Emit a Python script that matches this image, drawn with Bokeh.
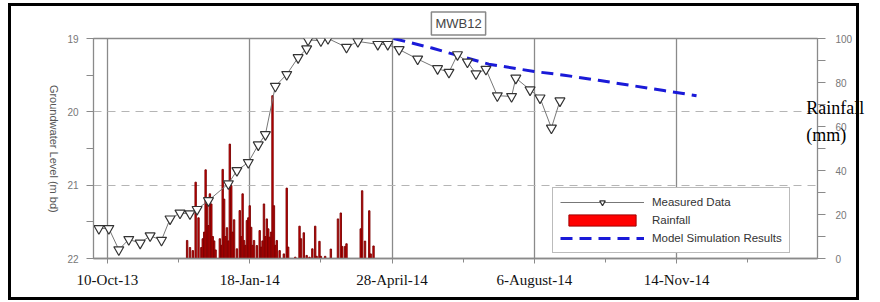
import pandas as pd
from math import pi
from bokeh.plotting import figure
from bokeh.models import (Range1d, LinearAxis, FixedTicker, Label,
                          Legend, LegendItem, ColumnDataSource)
from bokeh.embed import file_html
from bokeh.resources import INLINE

# ---------------- data ----------------
measured_dates = ["2013-10-04", "2013-10-11", "2013-10-18", "2013-10-25", "2013-11-02",
                  "2013-11-09", "2013-11-17", "2013-11-23", "2013-11-30", "2013-12-07",
                  "2013-12-12", "2013-12-20", "2014-01-03", "2014-01-09", "2014-01-17",
                  "2014-01-24", "2014-01-29", "2014-02-05", "2014-02-13", "2014-02-21",
                  "2014-02-27", "2014-02-28", "2014-03-09", "2014-03-14", "2014-03-27",
                  "2014-04-04", "2014-04-18", "2014-04-25", "2014-05-03", "2014-05-16",
                  "2014-05-30", "2014-06-07", "2014-06-13", "2014-06-20", "2014-06-26",
                  "2014-07-03", "2014-07-11", "2014-07-21", "2014-07-24", "2014-08-03",
                  "2014-08-10", "2014-08-18", "2014-08-24"]
measured_level = [21.59, 21.59, 21.88, 21.74, 21.79, 21.69, 21.75, 21.46, 21.38, 21.39,
                  21.33, 21.21, 20.98, 20.80, 20.69, 20.45, 20.31, 19.65, 19.49, 19.26,
                  19.14, 19.02, 19.03, 19.00, 19.12, 19.04, 19.08, 19.08, 19.15, 19.28,
                  19.41, 19.46, 19.22, 19.32, 19.48, 19.42, 19.78, 19.79, 19.54, 19.70,
                  19.81, 20.22, 19.85]

model_dates = ["2014-04-29", "2014-05-26", "2014-06-13", "2014-07-05", "2014-08-06",
               "2014-08-27", "2014-09-20", "2014-10-13", "2014-11-05", "2014-11-28"]
model_level = [19.00, 19.13, 19.23, 19.35, 19.45, 19.50, 19.57, 19.64, 19.71, 19.78]

rain_dates = ["2013-12-05", "2013-12-07", "2013-12-09", "2013-12-11", "2013-12-13",
              "2013-12-15", "2013-12-16", "2013-12-17", "2013-12-18", "2013-12-19",
              "2013-12-20", "2013-12-21", "2013-12-22", "2013-12-23", "2013-12-24",
              "2013-12-25", "2013-12-28", "2013-12-29", "2013-12-30", "2013-12-31",
              "2014-01-01", "2014-01-02", "2014-01-03", "2014-01-04", "2014-01-05",
              "2014-01-06", "2014-01-07", "2014-01-09", "2014-01-11", "2014-01-12",
              "2014-01-13", "2014-01-14", "2014-01-15", "2014-01-16", "2014-01-17",
              "2014-01-18", "2014-01-19", "2014-01-20", "2014-01-21", "2014-01-23",
              "2014-01-25", "2014-01-26", "2014-01-27", "2014-01-28", "2014-01-29",
              "2014-01-30", "2014-01-31", "2014-02-01", "2014-02-02", "2014-02-03",
              "2014-02-04", "2014-02-05", "2014-02-06", "2014-02-08", "2014-02-11",
              "2014-02-13", "2014-02-14", "2014-02-19", "2014-02-22", "2014-02-23",
              "2014-02-25", "2014-02-27", "2014-03-01", "2014-03-03", "2014-03-05",
              "2014-03-06", "2014-03-08", "2014-03-09", "2014-03-12", "2014-03-16",
              "2014-03-21", "2014-03-23", "2014-03-24", "2014-03-26", "2014-03-27",
              "2014-04-06", "2014-04-07", "2014-04-09", "2014-04-12", "2014-04-13",
              "2014-04-15"]
rain_mm = [8.2, 5.0, 3.6, 34.7, 18.5,
           5.0, 9.0, 12.0, 40.3, 26.4,
           15.0, 29.4, 24.8, 10.0, 8.0,
           3.9, 9.0, 6.0, 40.5, 27.0,
           10.0, 14.0, 8.0, 52.0, 33.2,
           12.0, 17.6, 4.4, 21.8, 10.0,
           29.4, 8.2, 6.0, 17.3, 18.5,
           24.0, 14.2, 6.0, 8.2, 5.9,
           12.7, 5.2, 8.0, 24.8, 10.0,
           18.0, 13.5, 9.7, 12.0, 74.0,
           24.0, 6.0, 8.2, 3.6, 2.1,
           32.0, 5.2, 0.6, 14.7, 9.0,
           11.7, 1.4, 0.6, 4.4, 14.7,
           1.0, 7.8, 1.0, 1.0, 4.3,
           18.0, 20.7, 5.5, 5.5, 6.7,
           13.5, 30.8, 7.9, 21.7, 2.1,
           5.7]

tick_dates = ["2013-10-10", "2014-01-18", "2014-04-28", "2014-08-06", "2014-11-14"]
tick_labels = ["10-Oct-13", "18-Jan-14", "28-April-14", "6-August-14", "14-Nov-14"]
minor_tick_dates = ["2013-11-29", "2014-03-09", "2014-06-17", "2014-09-25", "2015-01-03"]
x_start, x_end = "2013-09-30 05:00", "2015-02-21"

level_ticks = [19, 20, 21, 22]
level_minor = [19.5, 20.5, 21.5]
rain_ticks = [0, 20, 40, 60, 80, 100]
rain_minor = [10, 30, 50, 70, 90]


def ms(s):
    return int(pd.Timestamp(s).value // 10**6)


DAY = 86400000

meas_src = ColumnDataSource(dict(x=[ms(d) for d in measured_dates], y=measured_level))
model_src = ColumnDataSource(dict(x=[ms(d) for d in model_dates], y=model_level))
rain_src = ColumnDataSource(dict(x=[ms(d) for d in rain_dates], top=rain_mm))

p = figure(width=880, height=302, x_axis_type="datetime",
           x_range=Range1d(ms(x_start), ms(x_end)), y_range=Range1d(22, 19),
           output_backend="svg", toolbar_location=None,
           min_border_left=93, min_border_right=63, min_border_top=38, min_border_bottom=44)
p.background_fill_color = "white"
p.border_fill_alpha = 0
p.outline_line_color = "#8a8a8a"
p.outline_line_width = 1.3
# outer black frame drawn as CSS background lines behind the transparent border area
p.styles = {
    "background-color": "white",
    "background-image": ("linear-gradient(#000,#000), linear-gradient(#000,#000), "
                         "linear-gradient(#000,#000), linear-gradient(#000,#000)"),
    "background-position": "8px 3px, 8px 297px, 8px 3px, 856px 3px",
    "background-size": "851px 3px, 851px 3px, 3px 297px, 3px 297px",
    "background-repeat": "no-repeat",
}

p.extra_y_ranges = {"rain": Range1d(0, 100)}

# axes
xt = [ms(d) for d in tick_dates]
p.xaxis.ticker = FixedTicker(ticks=xt, minor_ticks=[ms(d) for d in minor_tick_dates])
p.xaxis.major_label_overrides = {t: l for t, l in zip(xt, tick_labels)}
p.xaxis.major_label_text_font = "Liberation Serif"
p.xaxis.major_label_text_font_size = "15px"
p.xaxis.major_label_text_color = "#111"
p.xaxis.major_label_standoff = 8
p.xaxis.major_tick_in = 0
p.xaxis.major_tick_out = 5
p.xaxis.minor_tick_in = 0
p.xaxis.minor_tick_out = 4
p.xaxis.axis_line_color = "#8a8a8a"
p.xaxis.major_tick_line_color = "#8a8a8a"
p.xaxis.minor_tick_line_color = "#8a8a8a"
p.xaxis.axis_line_width = 1.3

p.yaxis.ticker = FixedTicker(ticks=level_ticks, minor_ticks=level_minor)
p.yaxis.major_label_text_font = "Liberation Sans"
p.yaxis.major_label_text_font_size = "10px"
p.yaxis.major_label_text_color = "#777"
p.yaxis.major_label_standoff = 8
p.yaxis.major_tick_in = 0
p.yaxis.major_tick_out = 7
p.yaxis.minor_tick_in = 0
p.yaxis.minor_tick_out = 7
p.yaxis.axis_line_color = "#8a8a8a"
p.yaxis.major_tick_line_color = "#8a8a8a"
p.yaxis.minor_tick_line_color = "#8a8a8a"
p.yaxis.axis_label_text_font = "Liberation Sans"
p.yaxis.axis_label_text_font_size = "11px"
p.yaxis.axis_label_text_font_style = "normal"
p.yaxis.axis_label_text_color = "#555"
p.yaxis.axis_label_standoff = 10
p.yaxis.axis_label_orientation = -pi / 2
p.yaxis.axis_label_align = "end"
p.yaxis.axis_label = "Groundwater Level (m bd)" + "\u00a0" * 15

ry = LinearAxis(y_range_name="rain", ticker=FixedTicker(ticks=rain_ticks, minor_ticks=rain_minor))
ry.major_label_text_font = "Liberation Sans"
ry.major_label_text_font_size = "10px"
ry.major_label_text_color = "#777"
ry.major_label_standoff = 10
ry.major_tick_in = 0
ry.major_tick_out = 8
ry.minor_tick_in = 0
ry.minor_tick_out = 8
ry.axis_line_color = "#8a8a8a"
ry.major_tick_line_color = "#8a8a8a"
ry.minor_tick_line_color = "#8a8a8a"
ry.axis_label = "Rainfall\n(mm)\n\n"
ry.axis_label_orientation = "horizontal"
ry.axis_label_standoff = -49
ry.axis_label_text_font = "Liberation Serif"
ry.axis_label_text_font_size = "18px"
ry.axis_label_text_font_style = "normal"
ry.axis_label_text_color = "black"
ry.axis_label_text_line_height = 1.35
p.add_layout(ry, "right")

# grids
p.xgrid.ticker = FixedTicker(ticks=xt)
p.xgrid.grid_line_color = "#8a8a8a"
p.xgrid.grid_line_width = 1.3
p.ygrid.ticker = FixedTicker(ticks=[20, 21])
p.ygrid.grid_line_color = "#b5b5b5"
p.ygrid.grid_line_dash = "8 6"
p.ygrid.grid_line_width = 1

# glyphs
rain_r = p.vbar(x="x", top="top", bottom=0, width=1.0 * DAY, source=rain_src,
                y_range_name="rain", fill_color="#d00000", line_color="#7a0000", line_width=0.9)
rain_key = p.vbar(x="x", top="top", bottom=0, width=1.0 * DAY, source=rain_src,
                  y_range_name="rain", fill_color="#ff0000", line_color="#a00000",
                  line_width=1, visible=False)
model_r = p.line(x="x", y="y", source=model_src, line_color="#1a1ad8", line_width=3,
                 line_dash="12 7")
meas_line = p.line(x="x", y="y", source=meas_src, line_color="#777", line_width=1)
meas_pts = p.scatter(x="x", y="y", source=meas_src, marker="inverted_triangle", size=10,
                     fill_color="white", line_color="#333", line_width=1.2)

legend = Legend(items=[LegendItem(label="Measured Data", renderers=[meas_line, meas_pts]),
                       LegendItem(label="Rainfall", renderers=[rain_key]),
                       LegendItem(label="Model Simulation Results", renderers=[model_r])],
                location=(459, 5), orientation="vertical",
                glyph_width=84, glyph_height=14, spacing=4, padding=7, margin=0,
                label_standoff=8, label_text_font="Liberation Sans",
                label_text_font_size="11.5px", label_text_color="#333",
                border_line_color="#777", border_line_width=1.2,
                background_fill_color="white", background_fill_alpha=1,
                inactive_fill_alpha=0)
p.add_layout(legend)

# boxed title above the frame
p.add_layout(Label(x=458, y=23, x_units="canvas", y_units="canvas", text="MWB12",
                   text_align="center", text_baseline="middle", text_font="Liberation Sans",
                   text_font_size="13px", text_color="#444", border_line_color="#888",
                   border_line_width=1.5, background_fill_color="white", padding=4), "above")

open("out.html", "w").write(file_html(p, INLINE))
